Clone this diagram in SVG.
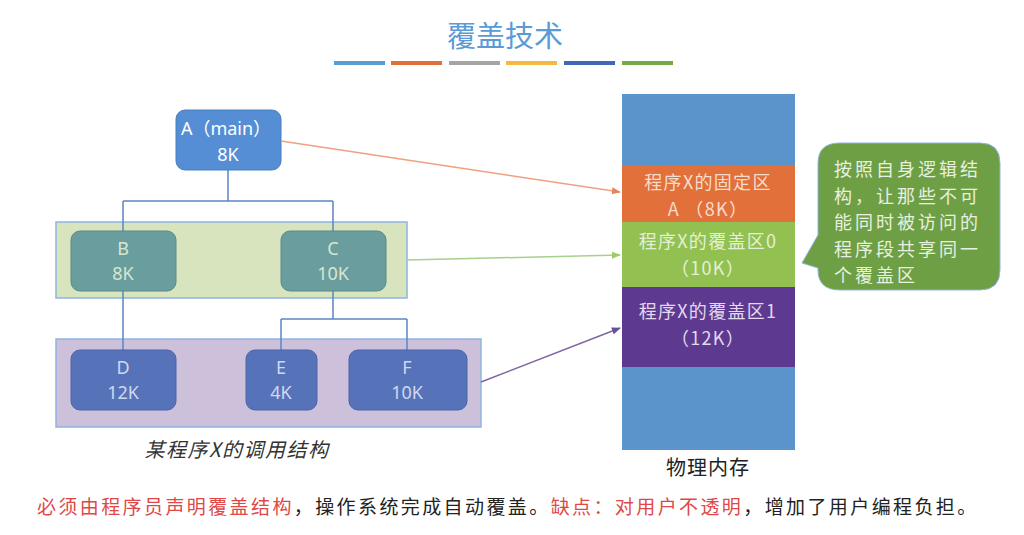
<svg xmlns="http://www.w3.org/2000/svg" width="1024" height="535" viewBox="0 0 1024 535">
<defs>
<style>
.cjk{font-family:"Noto Sans CJK SC","Noto Sans",sans-serif;}
.nt{font-family:"Noto Sans","Noto Sans CJK SC",sans-serif;font-size:18px;text-anchor:middle;}
.tree{fill:none;stroke:#5B86C4;stroke-width:1.5;}
.mt{font-family:"Noto Sans CJK SC",sans-serif;font-size:18px;letter-spacing:1.3px;text-anchor:middle;}
</style>
<marker id="ao" viewBox="0 0 10 10" refX="9" refY="5" markerWidth="6" markerHeight="6" orient="auto"><path d="M0,1 L10,5 L0,9 z" fill="#E8845A"/></marker>
<marker id="ag" viewBox="0 0 10 10" refX="9" refY="5" markerWidth="6" markerHeight="6" orient="auto"><path d="M0,1 L10,5 L0,9 z" fill="#9CCB6A"/></marker>
<marker id="ap" viewBox="0 0 10 10" refX="9" refY="5" markerWidth="6" markerHeight="6" orient="auto"><path d="M0,1 L10,5 L0,9 z" fill="#6A4E9E"/></marker>
</defs>
<rect width="1024" height="535" fill="#FFFFFF"/>

<g id="title">
<text x="505" y="47" class="cjk" font-size="29" fill="#5B9BD5" text-anchor="middle">覆盖技术</text>
<rect x="334" y="61" width="51" height="4" fill="#5B9BD5"/>
<rect x="391" y="61" width="51" height="4" fill="#E0703A"/>
<rect x="449" y="61" width="51" height="4" fill="#A5A5A5"/>
<rect x="506" y="61" width="51" height="4" fill="#F5B942"/>
<rect x="564" y="61" width="51" height="4" fill="#4267B8"/>
<rect x="622" y="61" width="51" height="4" fill="#70AD47"/>
</g>

<g id="group-overlay0">
<rect x="56" y="222" width="351" height="76" fill="#D7E4BD" stroke="#8EB4E3" stroke-width="1.5"/>
</g>
<g id="group-overlay1">
<rect x="56" y="339" width="425" height="88" fill="#CCC0DA" stroke="#8EB4E3" stroke-width="1.5"/>
</g>

<g id="tree-lines">
<path class="tree" d="M228,170 V201 M123,201 H333 M123,201 V231 M333,201 V231"/>
<path class="tree" d="M123,291 V350"/>
<path class="tree" d="M333,291 V319 M281,319 H407 M281,319 V350 M407,319 V350"/>
</g>

<g id="node-A">
<rect x="176" y="110" width="105" height="60" rx="9" fill="#558ED5" stroke="#4A7EBB"/>
<text x="226" y="135" class="nt" fill="#FFFFFF">A（main）</text>
<text x="228" y="161" class="nt" fill="#FFFFFF">8K</text>
</g>
<g id="node-B">
<rect x="71" y="231" width="105" height="60" rx="9" fill="#6A9E9E" stroke="#5A8A8A"/>
<text x="123" y="255" class="nt" fill="#D8E6D0">B</text>
<text x="123" y="280" class="nt" fill="#D8E6D0">8K</text>
</g>
<g id="node-C">
<rect x="281" y="231" width="105" height="60" rx="9" fill="#6A9E9E" stroke="#5A8A8A"/>
<text x="333" y="255" class="nt" fill="#D8E6D0">C</text>
<text x="333" y="280" class="nt" fill="#D8E6D0">10K</text>
</g>
<g id="node-D">
<rect x="71" y="350" width="105" height="60" rx="9" fill="#5673BA" stroke="#4A64A8"/>
<text x="123" y="374" class="nt" fill="#D0D8EE">D</text>
<text x="123" y="399" class="nt" fill="#D0D8EE">12K</text>
</g>
<g id="node-E">
<rect x="246" y="350" width="71" height="60" rx="9" fill="#5673BA" stroke="#4A64A8"/>
<text x="281" y="374" class="nt" fill="#D0D8EE">E</text>
<text x="281" y="399" class="nt" fill="#D0D8EE">4K</text>
</g>
<g id="node-F">
<rect x="349" y="350" width="118" height="60" rx="9" fill="#5673BA" stroke="#4A64A8"/>
<text x="407" y="374" class="nt" fill="#D0D8EE">F</text>
<text x="407" y="399" class="nt" fill="#D0D8EE">10K</text>
</g>

<g id="label-structure">
<text x="237" y="457" class="cjk" font-size="20" letter-spacing="1.5" font-style="italic" fill="#333333" text-anchor="middle">某程序X的调用结构</text>
</g>

<g id="memory">
<rect x="622" y="94" width="173" height="356" fill="#5B93CB"/>
<rect x="622" y="165" width="173" height="57" fill="#E2703A"/>
<rect x="622" y="222" width="173" height="65" fill="#92C152"/>
<rect x="622" y="287" width="173" height="80" fill="#5D3A8F"/>
<text x="708" y="189" class="mt" fill="#F8DCCB">程序X的固定区</text>
<text x="708" y="215.5" class="mt" fill="#F8DCCB">A （8K）</text>
<text x="708" y="248" class="mt" fill="#E4F0D4">程序X的覆盖区0</text>
<text x="708" y="274.5" class="mt" fill="#E4F0D4">（10K）</text>
<text x="708" y="318" class="mt" fill="#E2D8F0">程序X的覆盖区1</text>
<text x="708" y="344.5" class="mt" fill="#E2D8F0">（12K）</text>
<text x="708" y="475" class="cjk" font-size="20" letter-spacing="1" fill="#222222" text-anchor="middle">物理内存</text>
</g>

<g id="connectors">
<line x1="281" y1="141" x2="620" y2="192" stroke="#F0A080" stroke-width="1.5" marker-end="url(#ao)"/>
<line x1="407" y1="260" x2="620" y2="255" stroke="#A8D08D" stroke-width="1.5" marker-end="url(#ag)"/>
<line x1="481" y1="382" x2="620" y2="328" stroke="#8064A2" stroke-width="1.5" marker-end="url(#ap)"/>
</g>

<g id="callout">
<path d="M840,143 H980 Q1000,143 1000,163 V270 Q1000,290 980,290 H840 Q818,290 818,270 V268 L802,263 L818,235 V163 Q818,143 840,143 Z" fill="#6E9F45" stroke="#8EB4E3" stroke-width="1"/>
<g class="cjk" font-size="18" letter-spacing="3" fill="#E8F0E0">
<text x="834" y="176">按照自身逻辑结</text>
<text x="834" y="202.5">构，让那些不可</text>
<text x="834" y="229">能同时被访问的</text>
<text x="834" y="255.5">程序段共享同一</text>
<text x="834" y="282">个覆盖区</text>
</g>
</g>

<g id="note">
<text x="37" y="514" class="cjk" font-size="19" letter-spacing="2.4" fill="#222222"><tspan fill="#E04848">必须由程序员声明覆盖结构</tspan>，操作系统完成自动覆盖。<tspan fill="#E04848">缺点：对用户不透明</tspan>，增加了用户编程负担。</text>
</g>
</svg>
